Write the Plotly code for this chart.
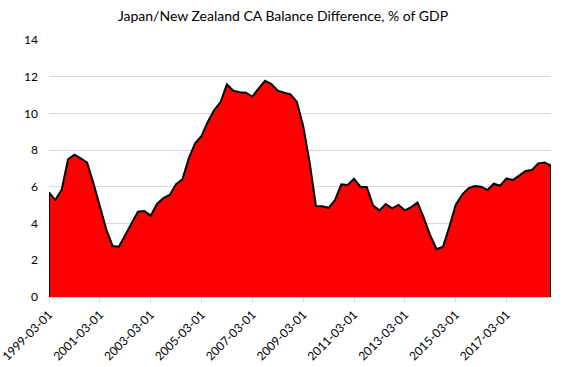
import pandas as pd
import plotly.graph_objects as go

dates = pd.date_range("1999-03-01", periods=80, freq="3MS").strftime("%Y-%m-%d").tolist()

values = [
    5.70, 5.28, 5.85, 7.50, 7.75, 7.55, 7.32, 6.19, 5.00, 3.70,
    2.78, 2.74, 3.38, 4.05, 4.65, 4.68, 4.43, 5.07, 5.39, 5.56,
    6.15, 6.41, 7.55, 8.37, 8.77, 9.55, 10.19, 10.62, 11.58, 11.24,
    11.15, 11.13, 10.91, 11.37, 11.78, 11.60, 11.24, 11.13, 11.04, 10.64,
    9.32, 7.37, 4.96, 4.94, 4.86, 5.28, 6.14, 6.10, 6.44, 6.01,
    6.00, 4.98, 4.72, 5.07, 4.83, 5.02, 4.72, 4.90, 5.14, 4.30,
    3.35, 2.60, 2.74, 3.83, 5.01, 5.56, 5.92, 6.05, 6.01, 5.83,
    6.17, 6.06, 6.46, 6.37, 6.63, 6.86, 6.92, 7.28, 7.33, 7.15,
]

tick_labels = dates[::8]
title = "Japan/New Zealand CA Balance Difference, % of GDP"
font_family = "Lato, Open Sans, sans-serif"

fig = go.Figure()
fig.add_trace(go.Scatter(
    x=dates, y=values, mode="lines", fill="tozeroy",
    fillcolor="#FF0000", line=dict(width=0), hoverinfo="skip",
    showlegend=False,
))
fig.add_trace(go.Scatter(
    x=[dates[0]] + dates + [dates[-1]],
    y=[0] + values + [0],
    mode="lines", line=dict(color="black", width=2),
    cliponaxis=False, showlegend=False,
))

fig.update_layout(
    width=566, height=367,
    margin=dict(l=49, r=15, t=40, b=70),
    paper_bgcolor="white", plot_bgcolor="white",
    font=dict(family=font_family, size=12, color="#000000"),
    title=dict(text=title, x=0.5, xanchor="center", y=0.956, yanchor="middle",
               font=dict(family=font_family, size=14, color="#000000")),
)
fig.update_xaxes(
    type="category", categoryorder="array", categoryarray=dates,
    range=[0, len(dates) - 1], automargin=False,
    tickmode="array", tickvals=tick_labels, ticktext=tick_labels,
    tickangle=-45, ticks="outside", ticklen=5, tickcolor="#d9d9d9",
    showline=True, linecolor="#d9d9d9", linewidth=1,
    showgrid=False, tickfont=dict(size=12),
)
fig.update_yaxes(
    range=[0, 14], dtick=2, showgrid=True, gridcolor="#d9d9d9",
    zeroline=False, showline=False, ticks="", ticklabelstandoff=10,
    automargin=False, tickfont=dict(size=12),
)

fig.write_html(
    "out.html",
    config={"displayModeBar": False},
    post_script="document.body.style.margin='0';document.body.style.overflow='hidden';",
)
